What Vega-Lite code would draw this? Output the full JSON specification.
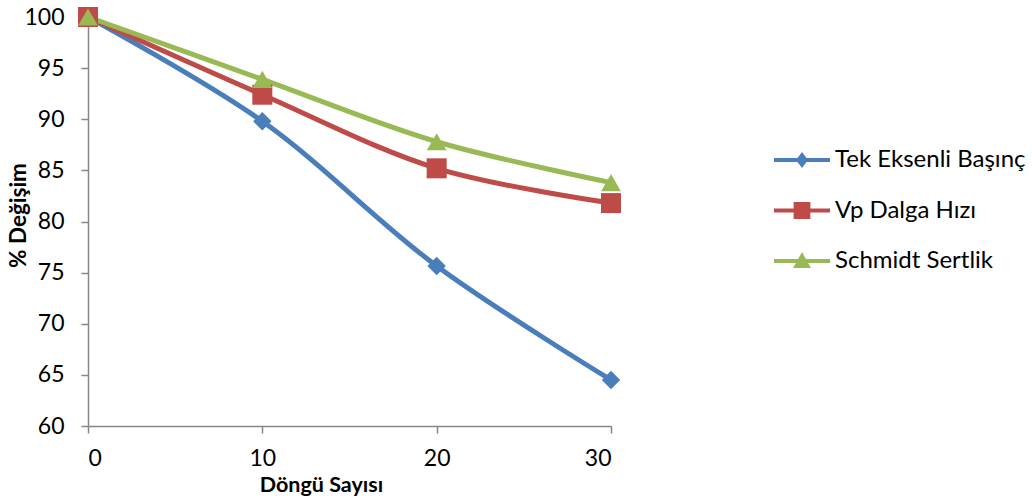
{
  "$schema": "https://vega.github.io/schema/vega-lite/v6.json",
  "width": 523,
  "height": 409,
  "autosize": "none",
  "padding": {"left": 88, "top": 17, "right": 421, "bottom": 77},
  "background": "white",
  "config": {"view": {"stroke": null}, "font": "Lato"},
  "data": {"values": [
    {"series": "Tek Eksenli Başınç", "cycle": 0, "value": 100},
    {"series": "Tek Eksenli Başınç", "cycle": 10, "value": 89.8},
    {"series": "Tek Eksenli Başınç", "cycle": 20, "value": 75.65},
    {"series": "Tek Eksenli Başınç", "cycle": 30, "value": 64.5},
    {"series": "Vp Dalga Hızı", "cycle": 0, "value": 100},
    {"series": "Vp Dalga Hızı", "cycle": 10, "value": 92.4},
    {"series": "Vp Dalga Hızı", "cycle": 20, "value": 85.2},
    {"series": "Vp Dalga Hızı", "cycle": 30, "value": 81.8},
    {"series": "Schmidt Sertlik", "cycle": 0, "value": 100},
    {"series": "Schmidt Sertlik", "cycle": 10, "value": 93.9},
    {"series": "Schmidt Sertlik", "cycle": 20, "value": 87.8},
    {"series": "Schmidt Sertlik", "cycle": 30, "value": 83.8}
  ]},
  "encoding": {
    "x": {"field": "cycle", "type": "quantitative",
      "scale": {"domain": [0, 30], "nice": false, "zero": false},
      "axis": {"values": [0, 10, 20, 30], "title": "Döngü Sayısı", "grid": false,
        "domainColor": "#868686", "domainWidth": 1.5, "tickColor": "#868686", "tickWidth": 1.5, "tickSize": 7,
        "labelFont": "Lato", "labelFontSize": 23, "labelColor": "black", "labelPadding": 14,
        "titleFont": "Lato", "titleFontSize": 21.5, "titleFontWeight": "bold", "titleColor": "black",
        "titleX": 233, "titleY": 65, "titleBaseline": "alphabetic", "titleAlign": "center"}},
    "y": {"field": "value", "type": "quantitative",
      "scale": {"domain": [60, 100], "nice": false, "zero": false},
      "axis": {"values": [60, 65, 70, 75, 80, 85, 90, 95, 100], "title": "% Değişim", "grid": false,
        "domainColor": "#868686", "domainWidth": 1.5, "tickColor": "#868686", "tickWidth": 1.5, "tickSize": 7,
        "labelFont": "Lato", "labelFontSize": 23, "labelColor": "black", "labelPadding": 17,
        "titleFont": "Lato", "titleFontSize": 22.5, "titleFontWeight": "bold", "titleColor": "black",
        "titleX": -70, "titleY": 198, "titleAngle": 270, "titleBaseline": "middle", "titleAlign": "center"}}
  },
  "layer": [
    {
      "mark": {"type": "line", "interpolate": "catmull-rom", "strokeWidth": 5},
      "encoding": {
        "detail": {"field": "series", "type": "nominal"},
        "stroke": {"condition": [
          {"test": "datum.series === 'Tek Eksenli Başınç'", "value": "#4A7EBB"},
          {"test": "datum.series === 'Vp Dalga Hızı'", "value": "#BE4B48"}
        ], "value": "#98B954"}
      }
    },
    {
      "mark": {"type": "point", "filled": true, "opacity": 1, "strokeWidth": 0},
      "encoding": {
        "fill": {"condition": [
          {"test": "datum.series === 'Tek Eksenli Başınç'", "value": "#4A7EBB"},
          {"test": "datum.series === 'Vp Dalga Hızı'", "value": "#BE4B48"}
        ], "value": "#98B954"},
        "shape": {"condition": [
          {"test": "datum.series === 'Tek Eksenli Başınç'", "value": "diamond"},
          {"test": "datum.series === 'Vp Dalga Hızı'", "value": "square"}
        ], "value": "triangle-up"},
        "size": {"condition": [
          {"test": "datum.series === 'Tek Eksenli Başınç'", "value": 340},
          {"test": "datum.series === 'Vp Dalga Hızı'", "value": 400}
        ], "value": 390}
      }
    },
    {
      "mark": {"type": "point", "filled": true, "opacity": 0},
      "encoding": {
        "color": {"field": "series", "type": "nominal",
          "scale": {"domain": ["Tek Eksenli Başınç", "Vp Dalga Hızı", "Schmidt Sertlik"], "range": ["#4A7EBB", "#BE4B48", "#98B954"]},
          "legend": {"orient": "none", "legendX": 686, "legendY": 129, "title": null,
            "symbolSize": 784, "symbolStrokeWidth": 0, "symbolOpacity": 1,
            "labelOffset": 33, "labelFont": "Lato", "labelFontSize": 24, "labelColor": "black",
            "labelLimit": 400, "rowPadding": 24.5, "padding": 0}},
        "shape": {"field": "series", "type": "nominal",
          "scale": {"domain": ["Tek Eksenli Başınç", "Vp Dalga Hızı", "Schmidt Sertlik"],
            "range": [
              "M-1,-0.15H3V0.15H-1Z M1,-0.57L1.43,0L1,0.57L0.57,0Z",
              "M-1,-0.15H3V0.15H-1Z M0.4,-0.6H1.6V0.6H0.4Z",
              "M-1,-0.15H3V0.15H-1Z M1,-0.64L1.64,0.5H0.36Z"
            ]},
          "legend": {"orient": "none", "legendX": 686, "legendY": 129, "title": null,
            "symbolSize": 784, "symbolStrokeWidth": 0, "symbolOpacity": 1,
            "labelOffset": 33, "labelFont": "Lato", "labelFontSize": 24, "labelColor": "black",
            "labelLimit": 400, "rowPadding": 24.5, "padding": 0}}
      }
    }
  ]
}
